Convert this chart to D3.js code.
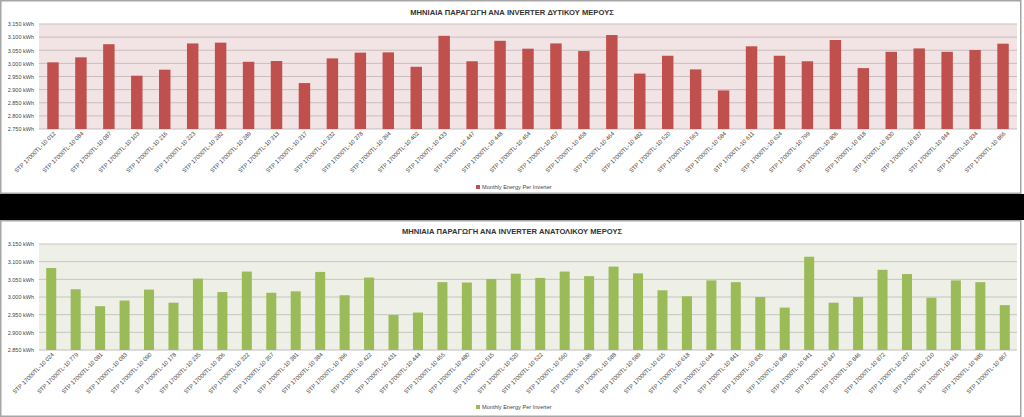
<!DOCTYPE html>
<html>
<head>
<meta charset="utf-8">
<script src="https://cdn.jsdelivr.net/npm/d3@7"></script>
<style>
  html, body { margin: 0; padding: 0; background: #fff; }
  svg { display: block; font-family: "Liberation Sans", Arial, sans-serif; }
</style>
</head>
<body>
<svg id="chart" width="1024" height="417"></svg>
<script>
// west side inverters
const westLabels = ["012","084","087","103","216","223","282","289","313","317","332","378","394","402","433","447","448","454","457","458","464","482","520","563","584","611","624","799","806","818","830","837","844","834","866"];
const westValues = [3004,3023,3073,2953,2976,3076,3079,3006,3009,2925,3019,3041,3042,2987,3105,3008,3086,3056,3076,3047,3108,2961,3029,2977,2897,3065,3029,3008,3089,2982,3044,3057,3044,3051,3075];
const westTicks = [2750,2800,2850,2900,2950,3000,3050,3100,3150];

// east side inverters
const eastLabels = ["024","779","081","083","090","178","235","306","322","357","381","384","396","422","431","444","455","480","515","520","522","560","586","588","589","615","618","644","841","835","849","941","847","846","872","207","210","916","985","867"];
const eastValues = [3082,3022,2974,2990,3021,2984,3052,3014,3072,3012,3016,3071,3005,3055,2949,2956,3042,3041,3051,3066,3054,3072,3059,3086,3067,3019,3002,3047,3042,3000,2970,3114,2984,3000,3077,3065,2998,3047,3042,2977];
const eastTicks = [2850,2900,2950,3000,3050,3100,3150];

const svg = d3.select("#chart");
const fmt = v => d3.format(",")(v).replace(",", ".") + " kWh";

// black strip between the two panels
svg.append("rect").attr("x", 0).attr("y", 194).attr("width", 1024).attr("height", 26).attr("fill", "#000");

function drawChart(opt) {
  const g = svg.append("g").attr("transform", `translate(0,${opt.top})`);

  // panel frame
  g.append("rect")
    .attr("x", 0.75).attr("y", 0.75)
    .attr("width", 1020).attr("height", opt.panelH - 1.5)
    .attr("fill", "#fff").attr("stroke", "#a6a6a6").attr("stroke-width", 1.5);

  const x = d3.scaleBand()
    .domain(opt.labels)
    .range([39, 1017])
    .paddingInner(0.59)
    .paddingOuter(0.295);

  const y = d3.scaleLinear()
    .domain([opt.ticks[0], opt.ticks[opt.ticks.length - 1]])
    .range([opt.plotBottom, opt.plotTop]);

  g.append("rect")
    .attr("x", 39).attr("y", opt.plotTop)
    .attr("width", 1017 - 39).attr("height", opt.plotBottom - opt.plotTop)
    .attr("fill", opt.bg);

  // gridlines
  g.append("g").selectAll("line")
    .data(opt.ticks.slice(1))
    .join("line")
    .attr("x1", 39).attr("x2", 1017)
    .attr("y1", d => y(d)).attr("y2", d => y(d))
    .attr("stroke", opt.grid).attr("stroke-width", 1);

  // y axis labels
  const yAxis = g.append("g")
    .attr("transform", "translate(39,0)")
    .call(d3.axisLeft(y).tickValues(opt.ticks).tickFormat(fmt).tickSize(0).tickPadding(5));
  yAxis.select(".domain").remove();
  yAxis.selectAll("text").attr("font-size", 5.5).attr("fill", "#444");

  // baseline
  g.append("line")
    .attr("x1", 39).attr("x2", 1017)
    .attr("y1", opt.plotBottom).attr("y2", opt.plotBottom)
    .attr("stroke", "#bfbfbf");

  g.append("g").selectAll("rect")
    .data(opt.values)
    .join("rect")
    .attr("x", (d, i) => x(opt.labels[i]))
    .attr("width", x.bandwidth())
    .attr("y", d => y(d))
    .attr("height", d => opt.plotBottom - y(d))
    .attr("fill", opt.color);

  // rotated category labels
  g.append("g").selectAll("text")
    .data(opt.labels)
    .join("text")
    .attr("transform", d => `translate(${x(d) + x.bandwidth() / 2 + 3},${opt.plotBottom + 5}) rotate(-45)`)
    .attr("text-anchor", "end")
    .attr("font-size", 5.8)
    .attr("fill", "#444")
    .text(d => "STP 17000TL-10 " + d);

  g.append("text")
    .attr("x", 512).attr("y", opt.titleY)
    .attr("text-anchor", "middle")
    .attr("font-size", 7.6).attr("font-weight", "bold")
    .attr("fill", "#333")
    .text(opt.title);

  // legend
  const lg = g.append("g").attr("transform", `translate(476,${opt.legendY})`);
  lg.append("rect").attr("x", 0).attr("y", -4).attr("width", 4).attr("height", 4).attr("fill", opt.color);
  lg.append("text").attr("x", 6).attr("y", 0).attr("font-size", 5.6).attr("fill", "#444")
    .text("Monthly Energy Per Inverter");
}

drawChart({
  top: 0, panelH: 194,
  labels: westLabels, values: westValues, ticks: westTicks,
  plotTop: 24, plotBottom: 129,
  color: "#c0504d", bg: "#f2e4e4", grid: "#c9bdbd",
  title: "ΜΗΝΙΑΙΑ ΠΑΡΑΓΩΓΗ ΑΝΑ INVERTER ΔΥΤΙΚΟΥ ΜΕΡΟΥΣ",
  titleY: 15, legendY: 189
});

drawChart({
  top: 220, panelH: 197,
  labels: eastLabels, values: eastValues, ticks: eastTicks,
  plotTop: 24, plotBottom: 130,
  color: "#9bbb59", bg: "#eef0e8", grid: "#c3c6bc",
  title: "ΜΗΝΙΑΙΑ ΠΑΡΑΓΩΓΗ ΑΝΑ INVERTER ΑΝΑΤΟΛΙΚΟΥ ΜΕΡΟΥΣ",
  titleY: 14, legendY: 189
});
</script>
</body>
</html>
